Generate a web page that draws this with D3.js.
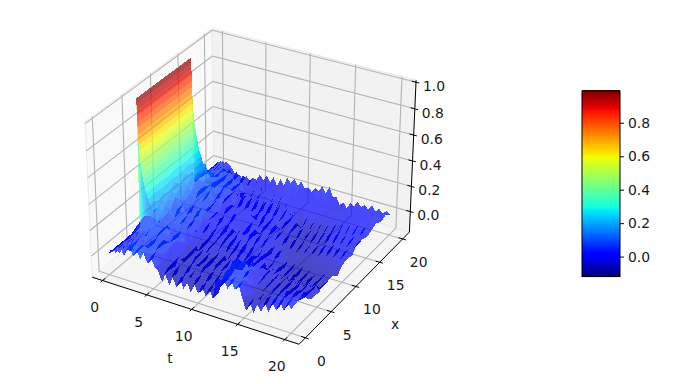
<!DOCTYPE html>
<html>
<head>
<meta charset="utf-8">
<script src="https://d3js.org/d3.v7.min.js"></script>
<style>
    body { margin: 0; background: #fff; }
    text { font-family: "DejaVu Sans", sans-serif; font-size: 13.9px; fill: #1a1a1a; }
</style>
</head>
<body>
<svg id="chart_svg" width="683" height="384"></svg>
<script>
const tTicks = [0, 5, 10, 15, 20];
const xTicks = [0, 5, 10, 15, 20];
const zTicks = [0, 0.2, 0.4, 0.6, 0.8, 1];
const barTicks = [0, 0.2, 0.4, 0.6, 0.8];
const zMin = -0.119;
const zMax = 0.99;

// surface sample positions, values below are hundredths
const xCols = [0, 1, 2, 3, 4, 5.5, 5.6, 6, 7, 8, 9, 10, 11, 12, 13, 14, 15, 15.5, 15.6, 17, 18, 19, 20];
const tRows = [0, .01, .02, .03, .04, .055, .07, .09, .11, .14, .17, .2, .25, .3, .4, .5, .65, .8, 1, 1.25, 1.5, 1.75, 2,
    2.4, 2.8, 3.2, 3.6, 4, 4.4, 4.8, 5.2, 5.6, 6, 6.4, 6.8, 7.2, 7.6, 8, 8.4, 8.8, 9.2, 9.6, 10, 10.4, 10.8, 11.2, 11.6,
    12, 12.4, 12.8, 13.2, 13.6, 14, 14.4, 14.8, 15.2, 15.6, 16, 16.4, 16.8, 17.2, 17.6, 18, 18.4, 18.8, 19.2, 19.6, 20];
const zRows = [
    [0,-1,1,0,-1,0,99,99,99,99,99,99,99,99,99,99,99,99,0,0,-1,1,0],
    [0,0,1,0,1,1,95,95,95,95,95,95,95,95,95,95,95,95,1,1,0,1,-1],
    [1,0,-1,1,0,1,90,90,90,90,90,90,90,90,90,90,90,90,1,1,1,0,1],
    [0,1,0,1,1,2,86,86,86,86,86,86,86,86,86,86,86,86,2,0,1,1,0],
    [1,0,1,0,1,2,81,81,81,81,81,81,81,81,81,81,81,81,2,1,0,1,1],
    [0,1,1,1,1,3,77,77,77,77,77,77,77,77,77,77,77,77,3,1,1,0,1],
    [1,1,0,1,1,3,72,72,72,72,72,72,72,72,72,72,72,72,3,1,1,1,1],
    [1,0,1,1,1,4,68,68,68,68,68,68,68,68,68,68,68,68,4,1,1,1,1],
    [1,1,1,0,2,5,64,64,64,64,64,64,64,64,64,64,64,64,5,2,1,1,2],
    [2,1,1,1,2,5,60,60,60,60,61,60,60,60,60,60,60,60,5,3,2,1,2],
    [1,2,1,2,2,6,56,56,56,56,56,57,56,56,56,56,56,56,6,2,2,2,2],
    [3,1,2,1,3,7,53,53,53,54,53,53,53,54,53,53,53,53,7,3,2,2,2],
    [2,3,2,2,2,7,50,50,50,50,51,50,50,50,50,51,50,50,7,3,3,2,3],
    [3,2,3,2,3,8,47,47,48,47,47,47,48,47,47,47,47,47,8,3,2,3,3],
    [2,3,2,3,3,9,42,42,42,43,42,42,42,42,43,42,42,42,9,4,3,2,3],
    [3,4,3,2,4,10,38,38,38,38,39,38,38,38,38,39,38,38,10,3,4,3,4],
    [4,2,4,4,2,11,33,33,34,33,33,34,33,33,34,33,33,33,11,4,3,5,3],
    [2,5,3,2,5,11,28,29,28,29,28,28,29,28,28,29,28,28,11,5,3,3,5],
    [5,2,5,3,4,12,24,24,25,24,24,25,24,24,25,24,24,24,12,5,5,6,3],
    [3,6,3,6,3,12,20,22,18,21,19,22,18,22,19,21,22,18,12,7,4,4,5],
    [6,2,7,3,7,11,16,14,20,15,19,14,20,14,20,15,14,19,11,4,7,5,3],
    [2,7,3,7,3,11,18,18,12,17,13,18,13,18,13,18,18,12,11,7,4,2,2],
    [7,3,8,4,8,10,9,11,16,10,16,10,16,10,17,11,10,16,9,4,7,3,0],
    [11,11,4,4,11,10,9,11,12,4,4,11,12,5,5,5,12,11,10,10,5,1,-5],
    [4,5,5,10,3,4,4,4,4,12,12,5,5,12,12,9,4,4,4,3,9,-4,-3],
    [10,10,4,3,9,9,8,4,11,11,4,3,11,4,4,12,11,10,10,9,2,2,-6],
    [3,10,10,9,9,2,3,10,4,4,10,10,3,10,11,4,3,3,3,2,8,-5,-2],
    [9,3,3,3,2,9,9,3,9,10,3,2,10,9,3,2,9,9,9,8,1,1,-6],
    [2,2,9,9,3,2,2,8,2,2,9,9,2,3,9,9,9,3,2,1,7,-5,-2],
    [8,9,2,2,9,8,8,1,8,8,2,8,8,8,1,2,2,8,7,6,-1,1,-3],
    [1,0,0,7,6,0,0,6,1,1,6,1,0,1,7,7,6,0,6,-2,5,-4,2],
    [-1,-8,-8,-9,-2,-1,-1,0,5,-2,-2,5,5,-2,-2,-2,4,4,-2,5,-2,2,-2],
    [-9,-2,-1,-1,-9,-8,-8,-7,-1,4,5,-3,-3,5,4,-3,-3,4,4,-3,5,-3,3],
    [-2,-9,-9,-2,-2,-1,-1,-7,-7,-6,-3,4,4,4,-3,5,5,-3,-2,5,-2,3,-2],
    [-10,-2,-2,-9,-9,-8,-8,0,0,2,3,3,-4,-3,4,-3,-3,5,5,-3,5,-2,3],
    [-3,-9,-9,-9,-2,-2,-2,-7,-6,-5,-4,-4,4,4,-3,5,5,-2,-2,5,-2,3,-3],
    [-9,-9,-2,-2,-9,-9,-8,-1,-1,1,4,4,4,-3,5,-2,-3,5,5,-2,5,-2,3],
    [-2,-2,-9,-3,-3,-2,-2,-7,-7,-5,-4,-3,-4,5,-2,5,5,-2,-2,6,-2,4,-1],
    [-9,-3,-3,-9,-9,-9,-8,-8,0,2,4,-3,5,-3,5,-2,-3,5,6,-2,6,-1,6],
    [-3,-10,-10,-2,-2,-2,-2,-1,-7,-6,-4,5,-3,5,-3,5,5,-2,-2,6,-2,6,2],
    [-10,-3,-3,-2,-9,-9,-8,-8,1,2,4,-3,-3,5,5,-2,-3,6,6,-2,6,0,7],
    [-3,-3,-9,-10,-2,-2,-2,-7,-6,-5,3,5,5,-3,-3,6,6,-1,-1,6,-1,6,2],
    [-9,-9,-2,-3,-8,-9,-8,-1,2,3,-4,-3,-4,5,6,-2,-2,6,6,-1,6,0,6],
    [-2,-3,-9,-9,-3,-2,-2,-7,-6,-5,4,4,-3,-3,-2,5,6,-2,-2,5,-2,5,1],
    [-9,-9,-3,-2,-2,-8,-8,0,3,3,-4,-4,4,4,4,-3,-3,5,5,-3,5,-2,3],
    [-2,-2,-9,-9,-8,-2,-1,-7,-6,-5,3,3,-4,-4,-4,3,4,-3,-3,4,-3,4,0],
    [-9,-9,-2,-3,-2,-8,-7,-1,2,3,-5,-4,3,3,-5,-5,-4,3,3,-4,3,-3,4],
    [8,2,3,9,7,-3,-3,-7,-5,-6,2,2,-5,-5,2,1,3,-5,-4,3,-3,4,2],
    [2,9,9,2,2,3,3,3,-1,1,-6,-5,1,0,-7,-7,-7,1,1,-3,4,-1,7],
    [9,3,2,9,8,-3,-3,-3,-4,-5,-6,1,-7,-8,-1,0,-8,-7,-5,4,-3,5,2],
    [2,3,9,8,2,3,3,3,2,2,1,-7,0,-1,-9,-9,-1,-1,2,-3,4,-1,8],
    [9,9,2,2,8,-3,-3,-4,-4,-5,-7,-1,-9,-9,-2,-2,-9,-8,-5,4,-3,4,1],
    [3,2,8,8,2,2,2,-5,-5,1,0,-8,-2,-2,-10,-9,-2,-2,1,-3,3,-3,2],
    [8,8,1,-5,-6,-5,-5,0,1,-6,-8,-2,-9,-9,-3,-3,-9,-8,-6,2,-5,1,-4],
    [-2,-3,-7,-2,0,0,0,-6,-8,-9,-2,-9,-3,-3,-9,-9,-2,-2,-1,-5,1,-5,-1],
    [-10,-9,-3,-8,-8,-7,-8,-1,-2,-3,-9,-3,-9,-8,-2,-2,-8,-7,-6,2,-4,2,-5],
    [-3,-3,-9,-3,-2,-2,-2,-8,-9,-9,-4,-9,-3,-3,-8,-7,-1,-1,0,-4,2,-4,0],
    [-10,-3,-3,-9,-9,-8,-8,-3,-3,-3,-10,-4,-8,-8,-1,-1,-6,-6,-5,3,-3,3,-2],
    [-3,-9,-9,-3,-3,-3,-2,-9,-10,-11,-4,-10,-2,-2,-6,-6,1,1,3,-2,4,-2,3],
    [-8,-2,-2,-8,-8,-9,-9,-3,-4,-4,-11,-5,-7,-7,2,2,-5,-4,-3,4,-2,3,-1],
    [0,-7,-7,-2,-2,-3,-3,-9,-10,-10,-5,-10,0,0,-5,-4,3,3,4,-2,5,-1,2],
    [-6,0,0,-7,-8,-9,-9,-4,-4,-5,-11,-4,-6,-6,3,3,-3,-3,-2,5,-2,4,-1],
    [3,4,-3,-1,-2,-3,-3,-9,-10,-9,-4,-9,1,1,-4,-3,4,4,5,-1,5,-1,3],
    [-3,-2,5,-5,-7,-8,-8,-3,-4,-4,-9,-3,-5,-5,3,3,-2,-2,-1,5,-1,4,-1],
    [5,5,-2,1,-2,-2,-2,-8,-9,-9,-3,-8,2,1,-3,-3,5,5,5,0,5,0,2],
    [-1,0,5,-5,-7,-7,-8,-3,-4,-4,-9,-2,-4,-4,3,3,-1,-1,-1,5,0,4,-1],
    [6,5,-1,2,-1,-2,-2,-8,-9,-8,-3,-8,2,1,-3,-3,6,5,5,0,5,0,2],
    [2,3,5,-2,-6,-6,-5,-3,-4,-4,-8,-3,-2,-3,3,2,0,1,1,4,1,3,0]
];

const svg = d3.select("#chart_svg");

// box limits of the 3d axes
const tLo = -1.2, tHi = 21.5;
const xLo = -1.2, xHi = 21.5;
const zLo = -0.165, zHi = 1.015;

const boxT = d3.scaleLinear().domain([tLo, tHi]).range([-0.5714, 0.5714]);
const boxX = d3.scaleLinear().domain([xLo, xHi]).range([-0.5714, 0.5714]);
const boxZ = d3.scaleLinear().domain([zLo, zHi]).range([-0.4286, 0.4286]);
const pxX = d3.scaleLinear().domain([0, 0.1]).range([253.6, 461.1]);
const pxY = d3.scaleLinear().domain([0, 0.1]).range([179, -28]);

// same camera as matplotlib's default elev 30, azim -60, dist 10
function project(t, x, z) {
    const X = boxT(t), Y = boxX(x), Z = boxZ(z);
    const a = 0.866 * X + 0.5 * Y;
    const b = -0.25 * X + 0.433 * Y + 0.866 * Z;
    const d = 10 - (0.433 * X - 0.75 * Y + 0.5 * Z);
    return {x: pxX(a / d), y: pxY(b / d), d: d};
}

const jetR = d3.scaleLinear().domain([0, .35, .66, .89, 1]).range([0, 0, 1, 1, .5]).clamp(true);
const jetG = d3.scaleLinear().domain([0, .125, .375, .64, .91, 1]).range([0, 0, 1, 1, 0, 0]).clamp(true);
const jetB = d3.scaleLinear().domain([0, .11, .34, .65, 1]).range([.5, 1, 1, 0, 0]).clamp(true);
const colorFrac = d3.scaleLinear().domain([zMin, zMax]).range([0, 1]).clamp(true);

function jet(f) {
    return d3.rgb(jetR(f) * 255, jetG(f) * 255, jetB(f) * 255).formatRgb();
}

const poly = d3.line().x(d => d.x).y(d => d.y).curve(d3.curveLinearClosed);

function drawPane(pts, fill) {
    svg.append("path")
        .attr("d", poly(pts.map(p => project(p[0], p[1], p[2]))))
        .attr("fill", fill)
        .attr("stroke", "#ebebeb")
        .attr("stroke-width", 1);
}

function drawSegment(p0, p1, color, width) {
    const a = project(p0[0], p0[1], p0[2]);
    const b = project(p1[0], p1[1], p1[2]);
    svg.append("line")
        .attr("x1", a.x).attr("y1", a.y)
        .attr("x2", b.x).attr("y2", b.y)
        .attr("stroke", color)
        .attr("stroke-width", width);
}

function drawLabel(pos, dx, dy, label) {
    svg.append("text")
        .attr("x", pos.x + dx)
        .attr("y", pos.y + dy)
        .attr("text-anchor", "middle")
        .attr("dy", ".35em")
        .text(label);
}

// panes
drawPane([[tLo, xLo, zLo], [tLo, xHi, zLo], [tLo, xHi, zHi], [tLo, xLo, zHi]], "#f9f9f9");
drawPane([[tLo, xHi, zLo], [tHi, xHi, zLo], [tHi, xHi, zHi], [tLo, xHi, zHi]], "#f2f2f2");
drawPane([[tLo, xLo, zLo], [tHi, xLo, zLo], [tHi, xHi, zLo], [tLo, xHi, zLo]], "#f5f5f5");

// grid
const gridColor = "#b4b4b4";
tTicks.forEach(t => {
    drawSegment([t, xLo, zLo], [t, xHi, zLo], gridColor, 1.1);
    drawSegment([t, xHi, zLo], [t, xHi, zHi], gridColor, 1.1);
});
xTicks.forEach(x => {
    drawSegment([tHi, x, zLo], [tLo, x, zLo], gridColor, 1.1);
    drawSegment([tLo, x, zLo], [tLo, x, zHi], gridColor, 1.1);
});
zTicks.forEach(z => {
    drawSegment([tLo, xLo, z], [tLo, xHi, z], gridColor, 1.1);
    drawSegment([tLo, xHi, z], [tHi, xHi, z], gridColor, 1.1);
});

// axis lines and ticks
drawSegment([tLo, xLo, zLo], [tHi, xLo, zLo], "#000", 1);
drawSegment([tHi, xLo, zLo], [tHi, xHi, zLo], "#000", 1);
drawSegment([tHi, xHi, zLo], [tHi, xHi, zHi], "#000", 1);
tTicks.forEach(t => {
    drawSegment([t, xLo + 0.45, zLo], [t, xLo - 0.35, zLo], "#000", 1);
    drawLabel(project(t, xLo, zLo), -8, 27, t);
});
xTicks.forEach(x => {
    drawSegment([tHi - 0.45, x, zLo], [tHi + 0.35, x, zLo], "#000", 1);
    drawLabel(project(tHi, x, zLo), 16, 23, x);
});
zTicks.forEach(z => {
    drawSegment([tHi - 0.45, xHi, z], [tHi + 0.35, xHi, z], "#000", 1);
    drawLabel(project(tHi, xHi, z), 18, 4, d3.format(".1f")(z));
});
svg.append("text").attr("x", 170).attr("y", 358).attr("text-anchor", "middle").attr("dy", ".35em").text("t");
svg.append("text").attr("x", 395).attr("y", 324).attr("text-anchor", "middle").attr("dy", ".35em").text("x");

// surface facets, far ones first
const facets = [];
for (let j = 0; j < tRows.length - 1; j++) {
    for (let i = 0; i < xCols.length - 1; i++) {
        const corners = [[j, i], [j + 1, i], [j + 1, i + 1], [j, i + 1]]
            .map(c => ({z: zRows[c[0]][c[1]] / 100, p: project(tRows[c[0]], xCols[c[1]], zRows[c[0]][c[1]] / 100)}));
        facets.push({
            pts: corners.map(c => c.p),
            zMean: d3.mean(corners, c => c.z),
            depth: d3.mean(corners, c => c.p.d)
        });
    }
}
facets.sort((a, b) => b.depth - a.depth);

svg.append("g")
    .selectAll("path")
    .data(facets)
    .enter().append("path")
    .attr("d", d => poly(d.pts))
    .attr("fill", d => jet(colorFrac(d.zMean)))
    .attr("fill-opacity", 0.7)
    .attr("shape-rendering", "crispEdges");

// colorbar
const barX = 582, barW = 38;
const barScale = d3.scaleLinear().domain([zMin, zMax]).range([276.5, 91]);
const barLevels = d3.range(0, 256).map(d => d / 255);
svg.append("g")
    .selectAll("rect")
    .data(barLevels)
    .enter().append("rect")
    .attr("x", barX)
    .attr("width", barW)
    .attr("y", d => barScale(zMin + d * (zMax - zMin)) - 1)
    .attr("height", 1.6)
    .attr("fill", d => jet(d));
svg.append("rect")
    .attr("x", barX).attr("y", 91)
    .attr("width", barW).attr("height", 185.5)
    .attr("fill", "none")
    .attr("stroke", "#000")
    .attr("stroke-width", 1);
const barAxis = svg.append("g")
    .attr("transform", `translate(${barX + barW},0)`)
    .call(d3.axisRight(barScale).tickValues(barTicks).tickFormat(d3.format(".1f")).tickSize(4).tickPadding(4));
barAxis.select(".domain").remove();
barAxis.selectAll("text").style("font-size", "13.9px").style("font-family", "DejaVu Sans");
</script>
</body>
</html>
